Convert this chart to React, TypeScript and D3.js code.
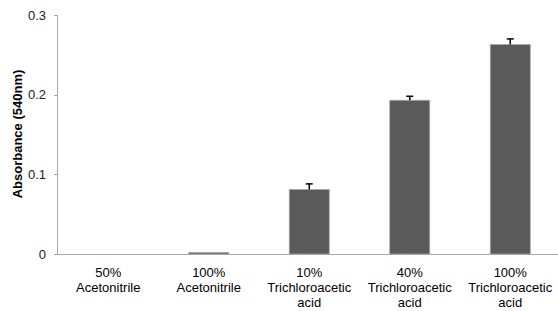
import React from "react";
import * as d3 from "d3";

const categories: string[][] = [
  ["50%", "Acetonitrile"],
  ["100%", "Acetonitrile"],
  ["10%", "Trichloroacetic", "acid"],
  ["40%", "Trichloroacetic", "acid"],
  ["100%", "Trichloroacetic", "acid"],
];
const values = [0, 0.002, 0.081, 0.193, 0.263];
const errors = [0, 0, 0.007, 0.005, 0.007];
const yTicks = [0, 0.1, 0.2, 0.3];
const yTickLabels = ["0", "0.1", "0.2", "0.3"];
const yLabel = "Absorbance (540nm)";

export default function App() {
  const W = 558, H = 311;
  const left = 58, right = 560.5, top = 15, bottom = 254;
  const band = d3.scaleBand<number>().domain(d3.range(categories.length)).range([left, right]);
  const y = d3.scaleLinear().domain([0, 0.3]).range([bottom, top]);
  const bw = 40;
  const font = "'Liberation Sans', Arial, sans-serif";
  return (
    <svg width={W} height={H} style={{ position: "absolute", left: 0, top: 0 }} fontFamily={font}>
      <rect width={W} height={H} fill="#fff" />
      {values.map((v, i) => {
        const cx = band(i)! + band.bandwidth() / 2;
        const yt = y(v);
        return (
          <g key={i}>
            {v > 0 && (
              <rect x={cx - bw / 2} y={yt} width={bw} height={bottom - yt} fill="#5a5a5a" stroke="#a8a8a8" strokeWidth={0.8} />
            )}
            {errors[i] > 0 && (
              <g stroke="#000" strokeWidth={1.5}>
                <line x1={cx} x2={cx} y1={yt} y2={y(v + errors[i])} />
                <line x1={cx - 3.5} x2={cx + 3.5} y1={y(v + errors[i])} y2={y(v + errors[i])} />
              </g>
            )}
          </g>
        );
      })}
      <line x1={left - 0.5} x2={left - 0.5} y1={top} y2={bottom} stroke="#a6a6a6" strokeWidth={1} />
      <line x1={left - 0.5} x2={W} y1={bottom + 0.5} y2={bottom + 0.5} stroke="#a6a6a6" strokeWidth={1} />
      {yTicks.map((t, i) => (
        <g key={t}>
          <line x1={left - 4} x2={left} y1={Math.round(y(t)) + 0.5} y2={Math.round(y(t)) + 0.5} stroke="#a6a6a6" />
          <text x={left - 12} y={y(t)} dy="0.35em" textAnchor="end" fontSize={13} fill="#222">{yTickLabels[i]}</text>
        </g>
      ))}
      <text transform={`translate(22,${134}) rotate(-90)`} textAnchor="middle" fontSize={13} fontWeight="bold" fill="#000">{yLabel}</text>
      {categories.map((lines, i) => {
        const cx = band(i)! + band.bandwidth() / 2;
        return (
          <text key={i} x={cx} y={276.5} textAnchor="middle" fontSize={13} fill="#000">
            {lines.map((l, j) => (
              <tspan key={j} x={cx} dy={j === 0 ? 0 : 15}>{l}</tspan>
            ))}
          </text>
        );
      })}
    </svg>
  );
}
